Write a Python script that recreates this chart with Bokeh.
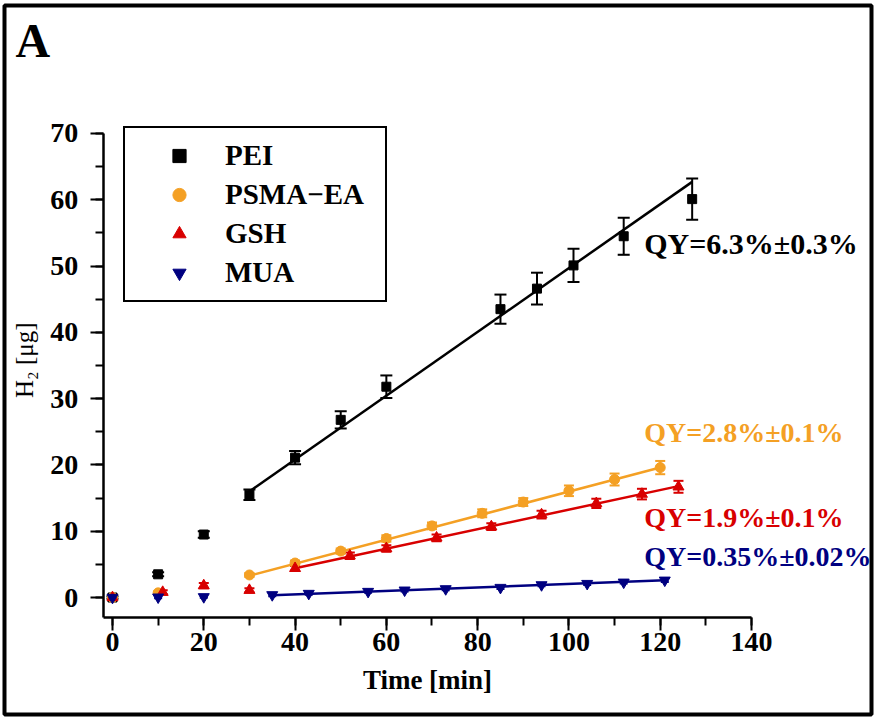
import math
from bokeh.plotting import figure
from bokeh.models import (ColumnDataSource, Whisker, TeeHead, Legend, LegendItem, Label,
                          SingleIntervalTicker, Range1d, LinearAxis)
from bokeh.embed import file_html
from bokeh.resources import INLINE

# ---------------- data ----------------
series_names = ["PEI", "PSMA\u2212EA", "GSH", "MUA"]

pei_t = [0, 10, 20, 30, 40, 50, 60, 85, 93, 101, 112, 127]
pei_h2 = [0, 3.5, 9.5, 15.5, 21.1, 26.8, 31.8, 43.5, 46.6, 50.1, 54.5, 60.1]
pei_err = [0.2, 0.3, 0.5, 0.8, 1.0, 1.3, 1.7, 2.2, 2.4, 2.5, 2.8, 3.1]

psma_t = [0, 10, 30, 40, 50, 60, 70, 81, 90, 100, 110, 120]
psma_h2 = [0, 0.7, 3.4, 5.2, 7.0, 8.9, 10.8, 12.7, 14.4, 16.1, 17.8, 19.6]
psma_err = [0.1, 0.2, 0.3, 0.4, 0.4, 0.5, 0.5, 0.6, 0.6, 0.8, 0.9, 1.0]

gsh_t = [0, 11, 20, 30, 40, 52, 60, 71, 83, 94, 106, 116, 124]
gsh_h2 = [0, 0.8, 1.8, 1.1, 4.4, 6.3, 7.4, 9.0, 10.7, 12.5, 14.2, 15.6, 16.7]
gsh_err = [0.2, 0.3, 0.4, 0.3, 0.4, 0.5, 0.5, 0.5, 0.5, 0.6, 0.7, 0.8, 0.9]

mua_t = [0, 10, 20, 35, 43, 56, 64, 73, 85, 94, 104, 112, 121]
mua_h2 = [0, 0.05, 0.1, 0.4, 0.6, 0.9, 1.1, 1.3, 1.5, 1.9, 2.1, 2.3, 2.6]
mua_err = [0.15, 0.15, 0.15, 0.2, 0.2, 0.2, 0.2, 0.2, 0.2, 0.2, 0.2, 0.2, 0.25]

# linear fits drawn in the reference (end points)
pei_fit_t, pei_fit_h2 = [30, 127], [16.0, 62.7]
psma_fit_t, psma_fit_h2 = [30, 120], [3.3, 19.6]
gsh_fit_t, gsh_fit_h2 = [40, 124], [4.4, 16.8]
mua_fit_t, mua_fit_h2 = [35, 121], [0.35, 2.6]

qy_texts = ["QY=6.3%\u00b10.3%", "QY=2.8%\u00b10.1%", "QY=1.9%\u00b10.1%", "QY=0.35%\u00b10.02%"]
qy_x = [116.5, 116.5, 116.5, 116.5]
qy_y = [53.4, 24.9, 12.1, 6.2]
qy_size = ["30px", "28px", "28px", "28px"]

x_label = "Time [min]"
y_label = "H\u2082 [\u03bcg]"
panel_label = "A"

colors = ["#000000", "#F4A024", "#D80000", "#000080"]
markers = ["square", "circle", "triangle", "inverted_triangle"]
msizes = [9, 10, 11, 11]

SERIF = "Liberation Serif"

# axes extents (data units)
X_MIN, X_MAX = -2, 140
Y_MIN, Y_MAX = -3, 70

# ---------------- figure ----------------
# the frame spans the whole panel so texts outside the axes are not clipped
p = figure(width=875, height=721, output_backend="svg", toolbar_location=None,
           x_range=Range1d(-23.66, 166.29), y_range=Range1d(-17.65, 89.31),
           x_axis_location=None, y_axis_location=None,
           min_border_left=4, min_border_right=4, min_border_top=5,
           min_border_bottom=7)
p.outline_line_color = "black"
p.outline_line_width = 4
p.xgrid.visible = False
p.ygrid.visible = False
p.background_fill_color = "white"
p.border_fill_color = "white"

xaxis = LinearAxis(fixed_location=Y_MIN, bounds=(X_MIN, X_MAX),
                   ticker=SingleIntervalTicker(interval=20, num_minor_ticks=2))
yaxis = LinearAxis(fixed_location=X_MIN, bounds=(Y_MIN, Y_MAX),
                   ticker=SingleIntervalTicker(interval=10, num_minor_ticks=2))
for ax in (xaxis, yaxis):
    ax.axis_line_width = 2.5
    ax.axis_line_color = "black"
    ax.major_tick_line_width = 2
    ax.minor_tick_line_width = 2
    ax.major_tick_line_color = "black"
    ax.minor_tick_line_color = "black"
    ax.major_tick_out = 13
    ax.major_tick_in = 0
    ax.minor_tick_out = 8
    ax.minor_tick_in = 0
    ax.major_label_text_font = SERIF
    ax.major_label_text_font_style = "bold"
    ax.major_label_text_font_size = "28px"
    ax.major_label_text_color = "black"
    ax.axis_label_text_font = SERIF
    ax.axis_label_text_color = "black"

xaxis.major_label_standoff = 3
yaxis.major_label_standoff = 12
xaxis.axis_label = x_label
xaxis.axis_label_text_font_style = "bold"
xaxis.axis_label_text_font_size = "27px"
xaxis.axis_label_standoff = 10
p.add_layout(xaxis, "below")
p.add_layout(yaxis, "left")

# y axis title, placed beside the axis as in the reference
p.add_layout(Label(x=-19.3, y=35.8, text=y_label, angle=math.pi / 2,
                   text_font=SERIF, text_font_size="25px", text_color="black",
                   text_align="center", text_baseline="middle"))

all_t = [pei_t, psma_t, gsh_t, mua_t]
all_h = [pei_h2, psma_h2, gsh_h2, mua_h2]
all_e = [pei_err, psma_err, gsh_err, mua_err]
fits = [(pei_fit_t, pei_fit_h2), (psma_fit_t, psma_fit_h2),
        (gsh_fit_t, gsh_fit_h2), (mua_fit_t, mua_fit_h2)]
caps = [12, 10, 10, 8]

for i in range(4):
    ft, fh = fits[i]
    p.line(ft, fh, line_color=colors[i], line_width=2.5)

renderers = []
for i in range(4):
    t, h, e = all_t[i], all_h[i], all_e[i]
    src = ColumnDataSource(dict(t=t, h=h,
                                lo=[a - b for a, b in zip(h, e)],
                                hi=[a + b for a, b in zip(h, e)]))
    w = Whisker(source=src, base="t", lower="lo", upper="hi",
                line_color=colors[i], line_width=2,
                upper_head=TeeHead(size=caps[i], line_color=colors[i], line_width=2),
                lower_head=TeeHead(size=caps[i], line_color=colors[i], line_width=2))
    p.add_layout(w)
    r = p.scatter("t", "h", source=src, marker=markers[i], size=msizes[i],
                  fill_color=colors[i], line_color=colors[i])
    renderers.append(r)

legend = Legend(items=[LegendItem(label=series_names[i], renderers=[renderers[i]]) for i in range(4)],
                location=(119, 412), orientation="vertical")
legend.border_line_color = "black"
legend.border_line_alpha = 1
legend.border_line_width = 2
legend.background_fill_color = "white"
legend.background_fill_alpha = 1
legend.label_text_font = SERIF
legend.label_text_font_style = "bold"
legend.label_text_font_size = "29px"
legend.label_text_color = "black"
legend.padding = 11
legend.spacing = 6
legend.glyph_width = 86
legend.glyph_height = 33
legend.label_height = 33
legend.label_width = 149
legend.label_standoff = 3
legend.margin = 0
p.add_layout(legend)

for i in range(4):
    p.add_layout(Label(x=qy_x[i], y=qy_y[i], text=qy_texts[i], text_color=colors[i],
                       text_font=SERIF, text_font_style="bold", text_font_size=qy_size[i],
                       text_baseline="middle", text_align="left"))

p.add_layout(Label(x=-21.25, y=84.0, text=panel_label, text_color="black",
                   text_font=SERIF, text_font_style="bold", text_font_size="48px",
                   text_baseline="alphabetic", text_align="left"))

open("out.html", "w").write(file_html(p, INLINE))
